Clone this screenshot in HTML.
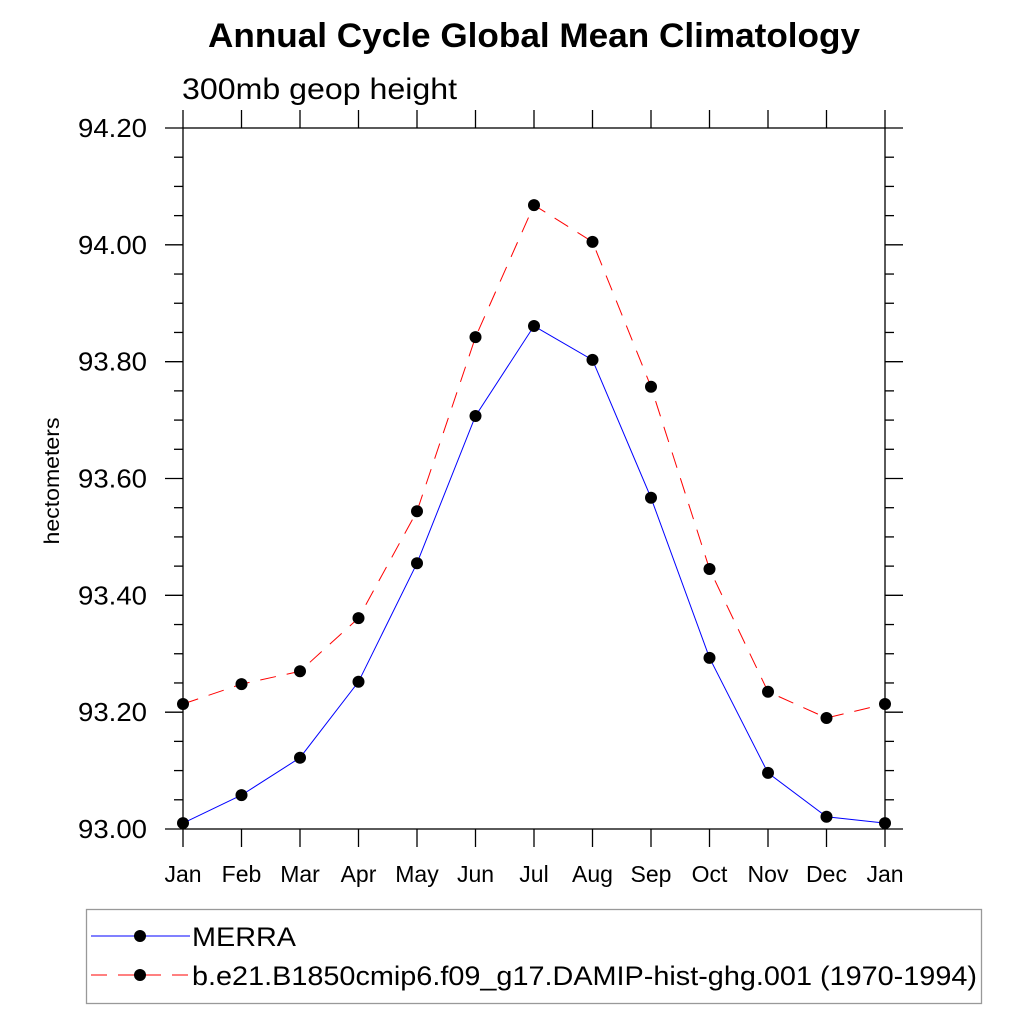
<!DOCTYPE html>
<html><head><meta charset="utf-8"><style>
body{margin:0;background:#fff}
svg{display:block;font-family:"Liberation Sans",sans-serif}
</style></head><body>
<svg id="chart" width="1024" height="1024" viewBox="0 0 1024 1024">
<text x="208" y="47" font-size="34" font-weight="bold" textLength="652" lengthAdjust="spacingAndGlyphs">Annual Cycle Global Mean Climatology</text>
<text x="182" y="99" font-size="30" textLength="275" lengthAdjust="spacingAndGlyphs">300mb geop height</text>
<text transform="translate(59,481) rotate(-90)" text-anchor="middle" font-size="21" textLength="127" lengthAdjust="spacingAndGlyphs">hectometers</text>
<rect x="183" y="128" width="702" height="701" fill="none" stroke="#000" stroke-width="1.3"/>
<g id="ticks"></g><g id="series"></g>
<g>
<rect x="86.5" y="909.5" width="895" height="94" fill="none" stroke="#999" stroke-width="1.3"/>
<line x1="91" y1="936" x2="190" y2="936" stroke="#00f" stroke-width="1"/>
<circle cx="140" cy="936" r="6"/>
<text x="192" y="946" font-size="27" textLength="104" lengthAdjust="spacingAndGlyphs">MERRA</text>
<line x1="91" y1="975" x2="190" y2="975" stroke="#f00" stroke-width="1" stroke-dasharray="16,11"/>
<circle cx="140" cy="975" r="6"/>
<text x="192" y="985" font-size="27" textLength="785" lengthAdjust="spacingAndGlyphs">b.e21.B1850cmip6.f09_g17.DAMIP-hist-ghg.001 (1970-1994)</text>
</g>
</svg>
<script>
const months=["Jan","Feb","Mar","Apr","May","Jun","Jul","Aug","Sep","Oct","Nov","Dec","Jan"];
const merra=[93.010,93.058,93.122,93.252,93.455,93.707,93.861,93.803,93.567,93.293,93.096,93.021,93.010];
const model=[93.214,93.248,93.270,93.361,93.544,93.842,94.068,94.005,93.757,93.445,93.235,93.190,93.214];
const yTicks=[93.00,93.20,93.40,93.60,93.80,94.00,94.20];
const NS="http://www.w3.org/2000/svg";
const X0=183,X1=885,Y0=829,Y1=128,YMIN=93.0,YMAX=94.2;
function xs(i){return X0+i*(X1-X0)/(months.length-1);}
function ys(v){return Y0-(v-YMIN)/(YMAX-YMIN)*(Y0-Y1);}
function mk(t,a,p){const e=document.createElementNS(NS,t);for(const k in a)e.setAttribute(k,a[k]);p.appendChild(e);return e;}
const tg=document.getElementById('ticks');
months.forEach((m,i)=>{
 const x=xs(i);
 const t=mk('line',{x1:x,y1:Y0,x2:x,y2:Y0+18,stroke:'#000','stroke-width':1.3},tg);
 
 
 const t2=mk('line',{x1:x,y1:Y1,x2:x,y2:Y1-18,stroke:'#000','stroke-width':1.3},tg);
 
 
 const l=mk('text',{x:x,y:882,'text-anchor':'middle','font-size':23},tg);
 l.textContent=m;
 
 
});
for(let v=YMIN;v<=YMAX+1e-6;v+=0.05){
 const y=ys(v);const major=Math.abs(Math.round(v*5)-v*5)<1e-6;const len=major?18:9;
 const a=mk('line',{x1:X0-len,y1:y,x2:X0,y2:y,stroke:'#000','stroke-width':1.3},tg);
 
 
 const b=mk('line',{x1:X1,y1:y,x2:X1+len,y2:y,stroke:'#000','stroke-width':1.3},tg);
 
 
}
yTicks.forEach(v=>{
 const l=mk('text',{x:147,y:ys(v)+9,'text-anchor':'end','font-size':26,textLength:69,lengthAdjust:'spacingAndGlyphs'},tg);
 l.textContent=v.toFixed(2);
 
 
});
const sg=document.getElementById('series');
function draw(vals,color,dash,name){
 const p=mk('polyline',{points:vals.map((v,i)=>xs(i)+','+ys(v)).join(' '),fill:'none',stroke:color,'stroke-width':1,'stroke-dasharray':dash},sg);
 
 
 vals.forEach((v,i)=>{
  const c=mk('circle',{cx:xs(i),cy:ys(v),r:6,fill:'#000'},sg);
  
  
 });
}
draw(model,'#f00','16,11','model');
draw(merra,'#00f','none','merra');
</script>
</body></html>
